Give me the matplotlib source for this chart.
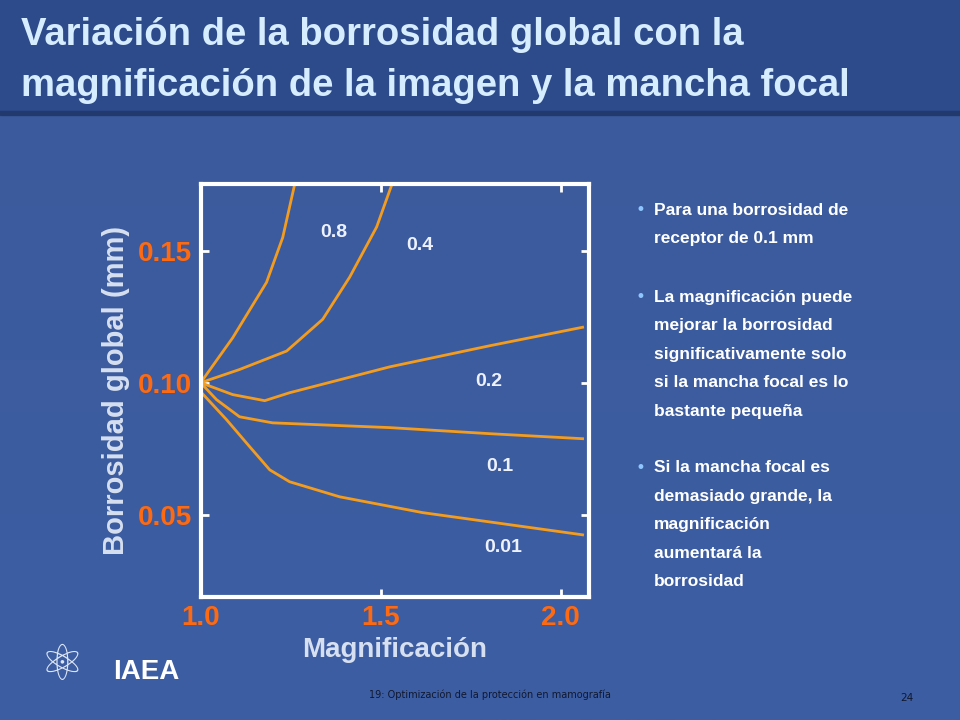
import matplotlib.pyplot as plt
import numpy as np

# curves: magnification vs global blur (mm), one per focal spot size
x_08 = [1.0, 1.089, 1.183, 1.228, 1.261]
y_08 = [0.100, 0.117, 0.138, 0.155, 0.175]
x_04 = [1.0, 1.108, 1.239, 1.339, 1.414, 1.489, 1.531]
y_04 = [0.100, 0.105, 0.112, 0.124, 0.140, 0.159, 0.175]
x_02 = [1.0, 1.089, 1.178, 1.247, 1.525, 1.803, 2.061]
y_02 = [0.100, 0.0955, 0.0932, 0.0962, 0.106, 0.114, 0.121]
x_01 = [1.0, 1.044, 1.108, 1.200, 1.525, 1.803, 2.061]
y_01 = [0.100, 0.0936, 0.0871, 0.0848, 0.083, 0.0807, 0.0788]
x_001 = [1.0, 1.072, 1.136, 1.192, 1.247, 1.386, 1.617, 2.061]
y_001 = [0.0966, 0.086, 0.0758, 0.067, 0.0625, 0.0568, 0.0508, 0.0424]
curve_labels = ['0.8', '0.4', '0.2', '0.1', '0.01']
label_pos = [(1.37, 0.157), (1.61, 0.152), (1.80, 0.1003), (1.83, 0.0682), (1.84, 0.0375)]

x_ticks = [1.0, 1.5, 2.0]
y_ticks = [0.05, 0.10, 0.15]

orange = '#f39c1e'
tick_orange = '#ff6a10'

fig = plt.figure(figsize=(9.6, 7.2), dpi=100)

# slide background
bg = fig.add_axes([0, 0, 1, 1])
grad = np.linspace(0, 1, 256)[:, None]
bg.imshow(grad, aspect='auto', extent=[0, 1, 0, 1], origin='lower',
          cmap=plt.matplotlib.colors.LinearSegmentedColormap.from_list(
              'bg', ['#3d5ea3', '#3b5a9c']))
bg.add_patch(plt.Rectangle((0, 0.845), 1, 0.155, color='#2d4a8a'))
bg.add_patch(plt.Rectangle((0, 0.84), 1, 0.006, color='#22396e'))
bg.set_xlim(0, 1)
bg.set_ylim(0, 1)
bg.axis('off')

fig.text(0.022, 0.951, 'Variación de la borrosidad global con la', color='#d6ecff',
         fontsize=27.5, fontweight='bold', va='center', family='Liberation Sans')
fig.text(0.022, 0.881, 'magnificación de la imagen y la mancha focal', color='#d6ecff',
         fontsize=27.5, fontweight='bold', va='center', family='Liberation Sans')

ax = fig.add_axes([0.209, 0.171, 0.405, 0.574])
ax.set_facecolor('none')
for xs, ys in [(x_08, y_08), (x_04, y_04), (x_02, y_02), (x_01, y_01), (x_001, y_001)]:
    ax.plot(xs, ys, color=orange, lw=2)
for lab, (lx, ly) in zip(curve_labels, label_pos):
    ax.text(lx, ly, lab, color='#eef2ff', fontsize=14, fontweight='bold',
            ha='center', va='center', family='Liberation Sans')
ax.set_xlim(1.0, 2.08)
ax.set_ylim(0.0189, 0.1754)
ax.set_xticks(x_ticks)
ax.set_xticklabels(['1.0', '1.5', '2.0'])
ax.set_yticks(y_ticks)
ax.set_yticklabels(['0.05', '0.10', '0.15'])
ax.tick_params(direction='in', color='white', width=2, length=6, top=True, right=True,
               labelcolor=tick_orange, labelsize=20, pad=6)
for t in ax.get_xticklabels() + ax.get_yticklabels():
    t.set_fontweight('bold')
    t.set_family('Liberation Sans')
for s in ax.spines.values():
    s.set_color('white')
    s.set_linewidth(3)
ax.set_xlabel('Magnificación', color='#d6e0f0', fontsize=20, fontweight='bold',
              family='Liberation Sans', labelpad=4)
ax.set_ylabel('Borrosidad global (mm)', color='#d6e0f0', fontsize=21, fontweight='bold',
              family='Liberation Sans', labelpad=6)

bullets = [
    (0.708, ['Para una borrosidad de', 'receptor de 0.1 mm']),
    (0.587, ['La magnificación puede', 'mejorar la borrosidad',
             'significativamente solo', 'si la mancha focal es lo',
             'bastante pequeña']),
    (0.350, ['Si la mancha focal es', 'demasiado grande, la',
             'magnificación', 'aumentará la', 'borrosidad']),
]
for y0, lines in bullets:
    fig.text(0.662, y0, '•', color='#8fc6ff', fontsize=12, va='center')
    for i, line in enumerate(lines):
        fig.text(0.681, y0 - i * 0.0395, line, color='white', fontsize=12.5,
                 fontweight='bold', va='center', family='Liberation Sans')

fig.text(0.118, 0.066, 'IAEA', color='white', fontsize=20, fontweight='bold',
         family='Liberation Sans', va='center')
fig.text(0.065, 0.075, '⚛', color='#dde6f5', fontsize=36, ha='center', va='center')
fig.text(0.51, 0.035, '19: Optimización de la protección en mamografía', color='#101830',
         fontsize=7, ha='center', va='center')
fig.text(0.945, 0.03, '24', color='#101830', fontsize=7.5, ha='center', va='center')

fig.savefig('out.png', dpi=100)
